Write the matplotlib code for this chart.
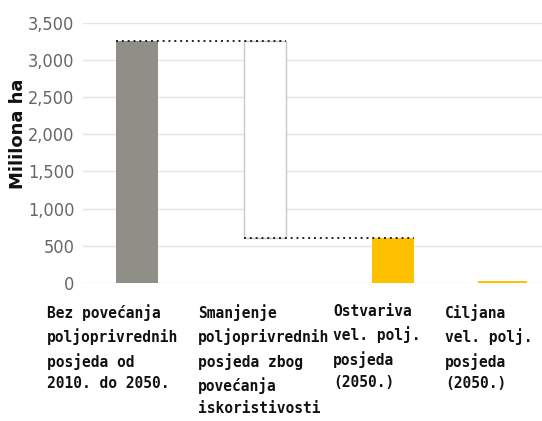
import matplotlib
matplotlib.use('Agg')
import matplotlib.pyplot as plt

# data (milijuna ha)
labels = ['Bez povećanja\npoljoprivrednih\nposjeda od\n2010. do 2050.',
          'Smanjenje\npoljoprivrednih\nposjeda zbog\npovećanja\niskoristivosti',
          'Ostvariva\nvel. polj.\nposjeda\n(2050.)',
          'Ciljana\nvel. polj.\nposjeda\n(2050.)']
start_val = 3250
reduction = 2650
achievable = 600
target = 20
yticks = [0, 500, 1000, 1500, 2000, 2500, 3000, 3500]

xpos = [0, 1, 2, 2.85]
w = 0.33

fig = plt.figure(figsize=(5.42, 4.21), dpi=100)
ax = fig.add_axes([0.153, 0.328, 0.847, 0.618])

ax.bar(xpos[0], start_val, width=w, color='#8f8f87', zorder=3)
ax.bar(xpos[1], reduction, bottom=start_val - reduction, width=w,
       color='white', edgecolor='#c8c8c8', linewidth=1.0, zorder=3)
ax.bar(xpos[2], achievable, width=w, color='#ffc000', zorder=3)
ax.bar(xpos[3], target, width=0.38, color='#ffc000', zorder=3)

# dotted connectors
ax.plot([xpos[0] - w/2, xpos[1] + w/2], [start_val, start_val],
        ls=(0, (1, 2.0)), color='#222222', lw=1.4, zorder=4)
ax.plot([xpos[1] - w/2, xpos[2] + w/2], [start_val - reduction] * 2,
        ls=(0, (1, 2.0)), color='#222222', lw=1.4, zorder=4)

ax.set_xlim(-0.42, 3.16)
ax.set_ylim(0, 3500)
ax.set_yticks(yticks)
ax.set_yticklabels(['{:,}'.format(v) for v in yticks],
                   family='DejaVu Sans', fontstretch='condensed',
                   fontsize=13, color='#666666')
ax.set_xticks([])
ax.tick_params(axis='y', length=0, pad=6)
ax.grid(axis='y', color='#e4e4e4', lw=1.0, zorder=0)
for s in ax.spines.values():
    s.set_visible(False)

ax.set_ylabel('Mililona ha', fontsize=13, fontweight='bold', color='#111111')
ax.yaxis.set_label_coords(-0.122, 0.573)

label_x = [47, 198, 333, 445]
for lx, txt in zip(label_x, labels):
    fig.text(lx / 542, 1 - 304 / 421, txt, ha='left', va='top',
             family='DejaVu Sans Mono', fontweight='bold', fontsize=10.5,
             color='#111111', linespacing=1.55)

fig.savefig('out.png', dpi=100)
